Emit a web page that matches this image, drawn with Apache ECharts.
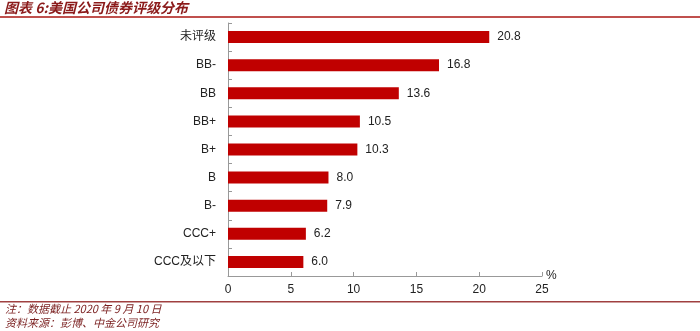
<!DOCTYPE html>
<html><head><meta charset="utf-8">
<script src="https://cdn.jsdelivr.net/npm/echarts@6/dist/echarts.min.js"></script>
<style>html,body{margin:0;padding:0;background:#fff}#c{width:700px;height:331px}</style>
</head><body><div id="c"></div>
<script>
const categories = ['未评级','BB-','BB','BB+','B+','B','B-','CCC+','CCC及以下'];
const values = [20.8,16.8,13.6,10.5,10.3,8.0,7.9,6.2,6.0];
const xTicks = [0,5,10,15,20,25];
const titleText = '图表 6:美国公司债券评级分布';
const noteText = '注：数据截止 2020 年 9 月 10 日';
const sourceText = '资料来源：彭博、中金公司研究';

const chart = echarts.init(document.getElementById('c'), null, {renderer:'canvas'});
chart.setOption({
  animation:false,
  grid:{left:228,right:158,top:23,bottom:55,containLabel:false},
  xAxis:{type:'value',min:xTicks[0],max:xTicks[xTicks.length-1],interval:5,
    name:'%',nameLocation:'end',nameGap:4,
    nameTextStyle:{color:'#222',fontSize:12,fontFamily:'Liberation Sans',align:'left',verticalAlign:'middle',padding:[6,0,0,0]},
    axisLine:{show:true,lineStyle:{color:'#999'}},
    axisTick:{show:true,inside:true,length:4,lineStyle:{color:'#999'}},
    splitLine:{show:false},
    axisLabel:{color:'#222',fontSize:12,fontFamily:'Liberation Sans',margin:8}},
  yAxis:{type:'category',data:categories,inverse:true,
    axisLine:{show:true,lineStyle:{color:'#999'}},
    axisTick:{show:true,inside:true,length:4,lineStyle:{color:'#999'}},
    axisLabel:{color:'#222',fontSize:12,fontFamily:'Liberation Sans, Noto Sans CJK SC',margin:12}},
  series:[{type:'bar',data:values,barWidth:12,
    itemStyle:{color:'#c00000'},
    label:{show:true,position:'right',distance:8,color:'#222',fontSize:12,fontFamily:'Liberation Sans',
      formatter:p=>p.value.toFixed(1)}}],
  graphic:[
    {type:'text',left:4,top:1,style:{text:titleText,fill:'#8b1a1a',font:'italic bold 14px "Noto Sans CJK SC"'}},
    {type:'rect',shape:{x:0,y:16,width:700,height:2},style:{fill:'#c0504d'}},
    {type:'rect',shape:{x:0,y:301,width:700,height:1.5},style:{fill:'#a04040'}},
    {type:'text',left:5,top:303,style:{text:noteText,fill:'#7a1f1f',font:'italic 11px "Noto Sans CJK SC"'}},
    {type:'text',left:5,top:317,style:{text:sourceText,fill:'#7a1f1f',font:'italic 11px "Noto Sans CJK SC"'}}
  ]
});
</script></body></html>
